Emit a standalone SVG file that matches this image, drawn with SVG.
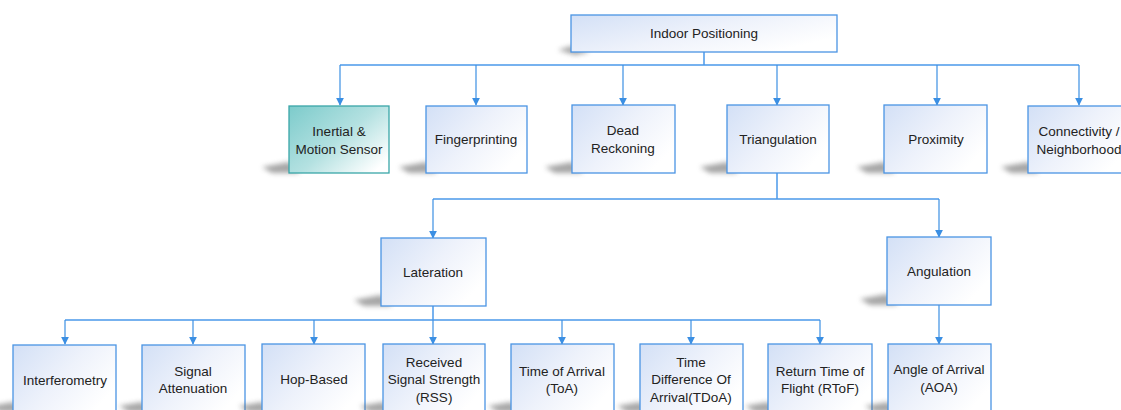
<svg xmlns="http://www.w3.org/2000/svg" width="1121" height="410" viewBox="0 0 1121 410">
  <defs>
    <linearGradient id="blueFill" x1="0" y1="0" x2="1" y2="0.6">
      <stop offset="0" stop-color="#d3e0f6"/>
      <stop offset="0.55" stop-color="#eef2fb"/>
      <stop offset="1" stop-color="#ffffff"/>
    </linearGradient>
    <linearGradient id="tealFill" x1="0" y1="0" x2="1" y2="0.8">
      <stop offset="0" stop-color="#7ccbcb"/>
      <stop offset="0.55" stop-color="#b4e1e1"/>
      <stop offset="1" stop-color="#ffffff"/>
    </linearGradient>
    <filter id="soft" x="-50%" y="-50%" width="200%" height="200%">
      <feGaussianBlur stdDeviation="2.5"/>
    </filter>
    <marker id="arrow" viewBox="0 0 10 10" refX="9" refY="5" markerWidth="8" markerHeight="8" markerUnits="userSpaceOnUse" orient="auto">
      <path d="M0,0 L10,5 L0,10 z" fill="#3b8fe3"/>
    </marker>
  </defs>
  <style>
    .box { fill: url(#blueFill); stroke: #4a94e4; stroke-width: 1.3; }
    .teal { fill: url(#tealFill); stroke: #3aa6a8; stroke-width: 1.3; }
    .shadow { fill: #5e5e5e; opacity: 0.55; filter: url(#soft); }
    .lbl { font-family: "Liberation Sans", Arial, sans-serif; font-size: 13.5px; fill: #222222; text-anchor: middle; dominant-baseline: central; }
    .wire { fill: none; stroke: #4a98ea; stroke-width: 1.5; }
    .arr { fill: none; stroke: #3b8fe3; stroke-width: 1.2; marker-end: url(#arrow); }
  </style>

  <rect width="1121" height="410" fill="#ffffff"/>

  <!-- connectors -->
  <g id="connectors">
    <!-- Indoor Positioning to first level -->
    <path class="wire" d="M704,52 V65"/>
    <path class="wire" d="M340,65 H1079"/>
    <path class="arr" d="M340,65 V105"/>
    <path class="arr" d="M476,65 V105"/>
    <path class="arr" d="M623,65 V105"/>
    <path class="arr" d="M777,65 V105"/>
    <path class="arr" d="M937,65 V105"/>
    <path class="arr" d="M1079,65 V105"/>
    <!-- Triangulation to Lateration / Angulation -->
    <path class="wire" d="M777,173 V199"/>
    <path class="wire" d="M433,199 H939"/>
    <path class="arr" d="M433,199 V238"/>
    <path class="arr" d="M939,199 V237"/>
    <!-- Lateration to methods -->
    <path class="wire" d="M433,306 V320"/>
    <path class="wire" d="M65,320 H820"/>
    <path class="arr" d="M65,320 V344"/>
    <path class="arr" d="M193,320 V344"/>
    <path class="arr" d="M314,320 V344"/>
    <path class="arr" d="M433,320 V344"/>
    <path class="arr" d="M562,320 V344"/>
    <path class="arr" d="M691,320 V344"/>
    <path class="arr" d="M820,320 V344"/>
    <!-- Angulation to AOA -->
    <path class="arr" d="M939,305 V344"/>
  </g>

  <!-- top -->
  <g id="indoor-positioning">
    <path class="shadow" d="M571,46 L558,50 L575,55 L590,52 Z"/>
    <rect class="box" x="571" y="15" width="266" height="37"/>
    <text class="lbl" x="704" y="33.5">Indoor Positioning</text>
  </g>

  <!-- first level -->
  <g id="inertial-motion-sensor">
    <path class="shadow" d="M289,162 L262,167 L272,173 L300,173 Z"/>
    <rect class="teal" x="289" y="106" width="100" height="67"/>
    <text class="lbl" x="339" y="131">Inertial &amp;</text>
    <text class="lbl" x="339" y="149">Motion Sensor</text>
  </g>
  <g id="fingerprinting">
    <path class="shadow" d="M426,162 L399,167 L409,173 L437,173 Z"/>
    <rect class="box" x="426" y="106" width="101" height="67"/>
    <text class="lbl" x="476" y="139.5">Fingerprinting</text>
  </g>
  <g id="dead-reckoning">
    <path class="shadow" d="M572,162 L545,167 L555,173 L583,173 Z"/>
    <rect class="box" x="572" y="105" width="103" height="68"/>
    <text class="lbl" x="623" y="130">Dead</text>
    <text class="lbl" x="623" y="148">Reckoning</text>
  </g>
  <g id="triangulation">
    <path class="shadow" d="M727,162 L700,167 L710,173 L738,173 Z"/>
    <rect class="box" x="727" y="105" width="102" height="68"/>
    <text class="lbl" x="778" y="139.5">Triangulation</text>
  </g>
  <g id="proximity">
    <path class="shadow" d="M884,162 L857,167 L867,173 L895,173 Z"/>
    <rect class="box" x="884" y="105" width="103" height="68"/>
    <text class="lbl" x="936" y="139.5">Proximity</text>
  </g>
  <g id="connectivity-neighborhood">
    <path class="shadow" d="M1028,162 L1001,167 L1011,173 L1039,173 Z"/>
    <rect class="box" x="1028" y="106" width="103" height="67"/>
    <text class="lbl" x="1079" y="131">Connectivity /</text>
    <text class="lbl" x="1079" y="149">Neighborhood</text>
  </g>

  <!-- second level -->
  <g id="lateration">
    <path class="shadow" d="M381,295 L354,300 L364,306 L392,306 Z"/>
    <rect class="box" x="381" y="238" width="105" height="68"/>
    <text class="lbl" x="433" y="272">Lateration</text>
  </g>
  <g id="angulation">
    <path class="shadow" d="M887,294 L860,299 L870,305 L898,305 Z"/>
    <rect class="box" x="887" y="237" width="104" height="68"/>
    <text class="lbl" x="939" y="271">Angulation</text>
  </g>

  <!-- third level -->
  <g id="interferometry">
    <path class="shadow" d="M13,402 L-10,406 L0,412 L24,412 Z"/>
    <rect class="box" x="13" y="345" width="103" height="70"/>
    <text class="lbl" x="65" y="380">Interferometry</text>
  </g>
  <g id="signal-attenuation">
    <path class="shadow" d="M142,402 L119,406 L129,412 L153,412 Z"/>
    <rect class="box" x="142" y="345" width="103" height="70"/>
    <text class="lbl" x="193" y="371">Signal</text>
    <text class="lbl" x="193" y="388">Attenuation</text>
  </g>
  <g id="hop-based">
    <path class="shadow" d="M262,402 L239,406 L249,412 L273,412 Z"/>
    <rect class="box" x="262" y="344" width="103" height="71"/>
    <text class="lbl" x="314" y="379">Hop-Based</text>
  </g>
  <g id="received-signal-strength">
    <path class="shadow" d="M383,402 L360,406 L370,412 L394,412 Z"/>
    <rect class="box" x="383" y="344" width="102" height="71"/>
    <text class="lbl" x="434" y="362">Received</text>
    <text class="lbl" x="434" y="379">Signal Strength</text>
    <text class="lbl" x="434" y="397">(RSS)</text>
  </g>
  <g id="time-of-arrival">
    <path class="shadow" d="M511,402 L488,406 L498,412 L522,412 Z"/>
    <rect class="box" x="511" y="344" width="103" height="71"/>
    <text class="lbl" x="562" y="371">Time of Arrival</text>
    <text class="lbl" x="562" y="388">(ToA)</text>
  </g>
  <g id="time-difference-of-arrival">
    <path class="shadow" d="M640,402 L617,406 L627,412 L651,412 Z"/>
    <rect class="box" x="640" y="344" width="103" height="71"/>
    <text class="lbl" x="691" y="362">Time</text>
    <text class="lbl" x="691" y="379">Difference Of</text>
    <text class="lbl" x="691" y="397">Arrival(TDoA)</text>
  </g>
  <g id="return-time-of-flight">
    <path class="shadow" d="M768,402 L745,406 L755,412 L779,412 Z"/>
    <rect class="box" x="768" y="344" width="104" height="71"/>
    <text class="lbl" x="820" y="371">Return Time of</text>
    <text class="lbl" x="820" y="388">Flight (RToF)</text>
  </g>
  <g id="angle-of-arrival">
    <path class="shadow" d="M888,402 L865,406 L875,412 L899,412 Z"/>
    <rect class="box" x="888" y="344" width="103" height="71"/>
    <text class="lbl" x="939" y="369">Angle of Arrival</text>
    <text class="lbl" x="939" y="387">(AOA)</text>
  </g>
</svg>
